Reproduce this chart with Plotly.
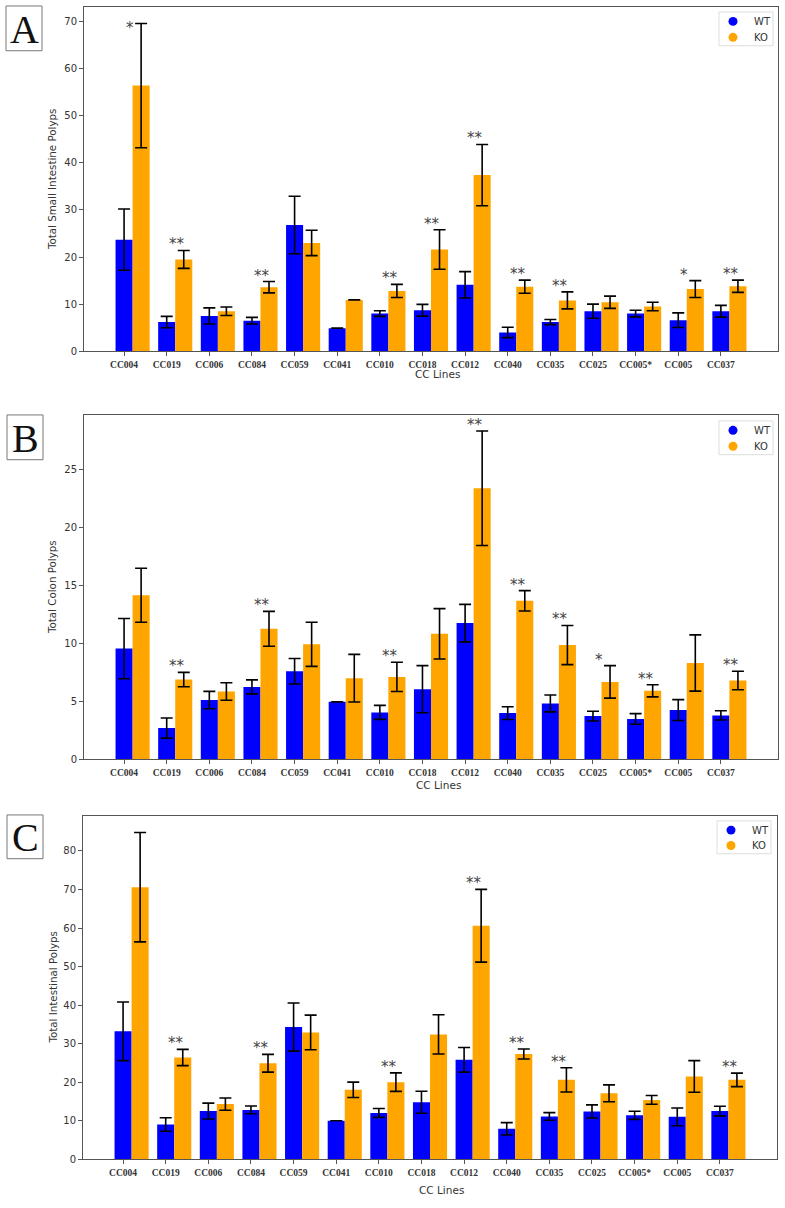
import plotly.graph_objects as go

W, H = 785, 1208

categories = ["CC004", "CC019", "CC006", "CC084", "CC059", "CC041", "CC010", "CC018",
              "CC012", "CC040", "CC035", "CC025", "CC005*", "CC005", "CC037"]

# Panel A: Total Small Intestine Polyps
a_wt = [23.7, 6.2, 7.5, 6.5, 26.8, 4.9, 8.0, 8.7, 14.1, 4.0, 6.2, 8.5, 8.0, 6.6, 8.5]
a_wt_err = [6.5, 1.2, 1.7, 0.7, 6.1, 0.0, 0.6, 1.25, 2.8, 1.1, 0.55, 1.5, 0.7, 1.55, 1.25]
a_ko = [56.4, 19.5, 8.5, 13.6, 23.0, 10.9, 12.8, 21.6, 37.4, 13.7, 10.8, 10.4, 9.5, 13.2, 13.8]
a_ko_err = [13.2, 1.9, 0.9, 1.2, 2.7, 0.0, 1.4, 4.2, 6.5, 1.4, 1.8, 1.3, 0.9, 1.8, 1.3]
a_sig = ["*", "**", "", "**", "", "", "**", "**", "**", "**", "**", "", "", "*", "**"]

# Panel B: Total Colon Polyps
b_wt = [9.54, 2.69, 5.10, 6.24, 7.59, 4.95, 4.04, 6.04, 11.74, 3.98, 4.81, 3.72, 3.47, 4.24, 3.78]
b_wt_err = [2.6, 0.87, 0.75, 0.6, 1.1, 0.0, 0.6, 2.03, 1.62, 0.55, 0.73, 0.42, 0.46, 0.9, 0.4]
b_ko = [14.15, 6.87, 5.84, 11.25, 9.91, 6.99, 7.10, 10.82, 23.37, 13.66, 9.85, 6.67, 5.90, 8.30, 6.79]
b_ko_err = [2.33, 0.62, 0.75, 1.5, 1.9, 2.05, 1.26, 2.17, 4.94, 0.88, 1.69, 1.4, 0.52, 2.43, 0.8]
b_sig = ["", "**", "", "**", "", "", "**", "", "**", "**", "**", "*", "**", "", "**"]

# Panel C: Total Intestinal Polyps
c_wt = [33.2, 9.0, 12.5, 12.8, 34.3, 10.0, 12.0, 14.8, 25.8, 7.9, 11.1, 12.4, 11.4, 11.0, 12.5]
c_wt_err = [7.6, 1.75, 2.05, 1.0, 6.25, 0.0, 1.15, 2.85, 3.2, 1.6, 1.0, 1.7, 1.05, 2.3, 1.25]
c_ko = [70.6, 26.4, 14.3, 24.9, 32.9, 18.0, 20.0, 32.4, 60.6, 27.3, 20.6, 17.1, 15.4, 21.5, 20.6]
c_ko_err = [14.2, 2.1, 1.6, 2.3, 4.5, 2.0, 2.4, 5.1, 9.45, 1.3, 3.15, 2.2, 1.15, 4.1, 1.75]
c_sig = ["", "**", "", "**", "", "", "**", "", "**", "**", "**", "", "", "", "**"]

y_titles = ["Total Small Intestine Polyps", "Total Colon Polyps", "Total Intestinal Polyps"]
panel_letters = ["A", "B", "C"]
x_title = "CC Lines"
series_names = ["WT", "KO"]

# layout (pixel geometry)
panels = [
    dict(wt=a_wt, wte=a_wt_err, ko=a_ko, koe=a_ko_err, sig=a_sig, ymax=73.1, dtick=10,
         px=(84, 778), py=(7, 353), xlab_y=376, xlab_x=437, box=(6, 6, 42, 51),
         leg=(719, 12, 773, 46), ytx=52, star_shift={0: -16}),
    dict(wt=b_wt, wte=b_wt_err, ko=b_ko, koe=b_ko_err, sig=b_sig, ymax=29.7, dtick=5,
         px=(84, 778), py=(417, 763), xlab_y=789, xlab_x=438, box=(7, 417, 43, 462),
         leg=(719, 423, 773, 457), ytx=52, star_shift={}),
    dict(wt=c_wt, wte=c_wt_err, ko=c_ko, koe=c_ko_err, sig=c_sig, ymax=89.1, dtick=10,
         px=(83, 777), py=(820, 1165), xlab_y=1196, xlab_x=441, box=(7, 819, 43, 863),
         leg=(717, 825, 771, 858), ytx=53, star_shift={}),
]

BLUE = "#0000ff"
ORANGE = "#ffa500"
TXT = "#333333"
BAR_W = 0.4

fig = go.Figure()
annotations = []
shapes = []

def fx(p):
    return p / W

def fy(p):
    return 1 - p / H

for k, P in enumerate(panels):
    sfx = "" if k == 0 else str(k + 1)
    xa = "x" + sfx
    ya = "y" + sfx
    xs = list(range(len(categories)))
    fig.add_trace(go.Bar(
        x=xs, y=P["wt"], width=BAR_W, marker=dict(color=BLUE, line=dict(width=0)),
        error_y=dict(type="data", array=P["wte"], color="black", thickness=1.6, width=6),
        xaxis=xa, yaxis=ya, showlegend=False, name=series_names[0]))
    fig.add_trace(go.Bar(
        x=[v + BAR_W for v in xs], y=P["ko"], width=BAR_W,
        marker=dict(color=ORANGE, line=dict(width=0)),
        error_y=dict(type="data", array=P["koe"], color="black", thickness=1.6, width=6),
        xaxis=xa, yaxis=ya, showlegend=False, name=series_names[1]))

    axis_common = dict(showline=True, linecolor="#555555", linewidth=1, mirror=True,
                       ticks="outside", ticklen=4, tickcolor="#555555", showgrid=False,
                       zeroline=False)
    fig.update_layout(**{
        ("xaxis" + sfx): dict(
            domain=[fx(P["px"][0]), fx(P["px"][1])], anchor=ya,
            range=[-0.94, 15.34], tickmode="array", tickvals=xs,
            ticktext=["<b>%s</b>" % c for c in categories],
            tickfont=dict(family="Liberation Serif", size=9.5, color=TXT),
            tickangle=0, **axis_common),
        ("yaxis" + sfx): dict(
            domain=[fy(P["py"][1]), fy(P["py"][0])], anchor=xa,
            range=[0, P["ymax"]], dtick=P["dtick"], tick0=0,
            tickfont=dict(family="DejaVu Sans", size=10, color=TXT), **axis_common),
    })

    # significance stars
    for i, s in enumerate(P["sig"]):
        if not s:
            continue
        top = P["ko"][i] + P["koe"][i]
        shift = P["star_shift"].get(i, -5)
        annotations.append(dict(
            x=i, y=top, xref=xa, yref=ya, text=s, showarrow=False,
            xanchor="left", yanchor="bottom", yshift=shift,
            font=dict(family="DejaVu Sans", size=15, color="#444444")))

    # y-axis title
    annotations.append(dict(
        x=fx(P["ytx"]), y=fy((P["py"][0] + P["py"][1]) / 2), xref="paper", yref="paper",
        text=y_titles[k], textangle=-90, showarrow=False, xanchor="center", yanchor="middle",
        font=dict(family="DejaVu Sans", size=10.3, color=TXT)))
    # x-axis title
    annotations.append(dict(
        x=fx(P["xlab_x"]), y=fy(P["xlab_y"]), xref="paper", yref="paper",
        text=x_title, showarrow=False, xanchor="center", yanchor="middle",
        font=dict(family="DejaVu Sans", size=10.5, color=TXT)))
    # panel letter box
    bx0, by0, bx1, by1 = P["box"]
    shapes.append(dict(type="rect", xref="paper", yref="paper",
                       x0=fx(bx0), x1=fx(bx1), y0=fy(by1), y1=fy(by0),
                       line=dict(color="#777777", width=1), fillcolor="white"))
    annotations.append(dict(
        x=fx((bx0 + bx1) / 2), y=fy((by0 + by1) / 2 + 1), xref="paper", yref="paper",
        text=panel_letters[k], showarrow=False, xanchor="center", yanchor="middle",
        font=dict(family="Liberation Serif", size=40, color="#111111")))

    # legend (matplotlib-style box with circle markers)
    lx0, ly0, lx1, ly1 = P["leg"]
    shapes.append(dict(type="rect", xref="paper", yref="paper",
                       x0=fx(lx0), x1=fx(lx1), y0=fy(ly1), y1=fy(ly0),
                       line=dict(color="#dddddd", width=1), fillcolor="white"))
    row_h = (ly1 - ly0) / 2
    for j, (nm, col) in enumerate(zip(series_names, [BLUE, ORANGE])):
        cy = ly0 + row_h * (j + 0.5) + (1 if j == 0 else 0)
        cx = lx0 + 14
        r = 4.5
        shapes.append(dict(type="circle", xref="paper", yref="paper",
                           x0=fx(cx - r), x1=fx(cx + r), y0=fy(cy + r), y1=fy(cy - r),
                           line=dict(width=0), fillcolor=col))
        annotations.append(dict(
            x=fx(lx0 + 33), y=fy(cy), xref="paper", yref="paper", text=nm,
            showarrow=False, xanchor="left", yanchor="middle",
            font=dict(family="DejaVu Sans", size=10, color=TXT)))

fig.update_layout(
    width=W, height=H, margin=dict(l=0, r=0, t=0, b=0),
    paper_bgcolor="white", plot_bgcolor="white", showlegend=False,
    barmode="overlay", annotations=annotations, shapes=shapes,
)

fig.write_html("out.html", config={"displayModeBar": False},
               post_script="document.body.style.margin='0';document.body.style.overflow='hidden';")
